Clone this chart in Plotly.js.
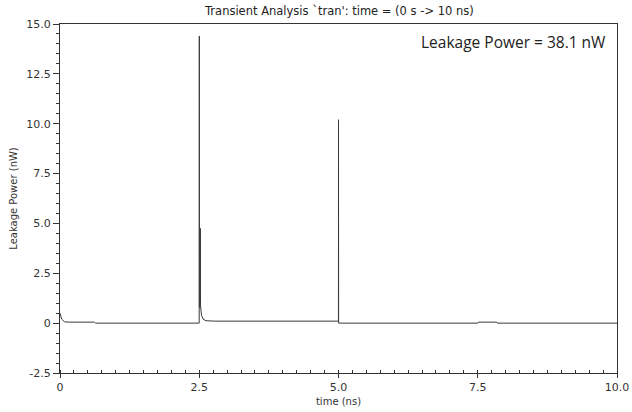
<!DOCTYPE html>
<html><head><meta charset="utf-8">
<script src="https://cdn.plot.ly/plotly-3.0.1.min.js"></script>
<style>html,body{margin:0;padding:0;background:#fff}#c{width:632px;height:412px}</style>
</head><body><div id="c"></div>
<script>
// time (ns) and leakage power (nW)
const timeNs = [0, 0.03, 0.08, 0.15, 0.62, 0.64, 2.499, 2.501, 2.503, 2.518, 2.52, 2.522, 2.54, 2.57, 2.62, 2.8, 4.999, 5.0, 5.002, 7.5, 7.51, 7.84, 7.85, 10];
const powerNw = [0.5, 0.2, 0.07, 0.05, 0.05, 0.0, 0.0, 14.4, 0.8, 0.8, 4.75, 0.9, 0.4, 0.2, 0.12, 0.1, 0.1, 10.2, 0.0, 0.0, 0.05, 0.05, 0.0, 0.0];
const yTickVals = [-2.5, 0, 2.5, 5, 7.5, 10, 12.5, 15];
const yTickText = ["-2.5", "0", "2.5", "5.0", "7.5", "10.0", "12.5", "15.0"];
const xTickVals = [0, 2.5, 5, 7.5, 10];
const xTickText = ["0", "2.5", "5.0", "7.5", "10.0"];
const titleText = "Transient Analysis `tran': time = (0 s -> 10 ns)";
const noteText = "Leakage Power = 38.1 nW";

const trace = {x: timeNs, y: powerNw, type: 'scatter', mode: 'lines',
  line: {color: '#3a3a3a', width: 1}, hoverinfo: 'skip'};

const layout = {
  width: 632, height: 412,
  margin: {l: 60, r: 15, t: 24, b: 39},
  paper_bgcolor: '#fff', plot_bgcolor: '#fff',
  showlegend: false,
  font: {family: 'DejaVu Sans', size: 11, color: '#333'},
  title: {text: titleText, x: 0.537, xanchor: 'center', y: 0.982, yanchor: 'top',
    font: {family: 'DejaVu Sans', size: 11.5, color: '#222'}},
  xaxis: {range: [0, 10], tickvals: xTickVals, ticktext: xTickText,
    showgrid: false, zeroline: false, showline: true, linecolor: '#333', linewidth: 1,
    mirror: true, ticks: 'outside', ticklen: 4, tickcolor: '#333',
    minor: {dtick: 0.25, ticks: 'inside', ticklen: 3, tickcolor: '#333', showgrid: false},
    tickfont: {family: 'DejaVu Sans', size: 11, color: '#333'},
    title: {text: 'time (ns)', standoff: 4, font: {family: 'DejaVu Sans', size: 10, color: '#333'}}},
  yaxis: {range: [-2.5, 15], tickvals: yTickVals, ticktext: yTickText,
    showgrid: false, zeroline: false, showline: true, linecolor: '#333', linewidth: 1,
    mirror: true, ticks: 'outside', ticklen: 6, tickcolor: '#333',
    minor: {dtick: 0.5, ticks: 'outside', ticklen: 3, tickcolor: '#333', showgrid: false},
    tickfont: {family: 'DejaVu Sans', size: 11, color: '#333'},
    title: {text: 'Leakage Power (nW)', standoff: 6, font: {family: 'DejaVu Sans', size: 10, color: '#333'}}},
  annotations: [{text: noteText, xref: 'paper', yref: 'paper', x: 0.983, y: 0.987,
    xanchor: 'right', yanchor: 'top', showarrow: false,
    font: {family: 'Open Sans', size: 15.5, color: '#222'}}]
};
Plotly.newPlot('c', [trace], layout, {staticPlot: true, displayModeBar: false});
</script></body></html>
